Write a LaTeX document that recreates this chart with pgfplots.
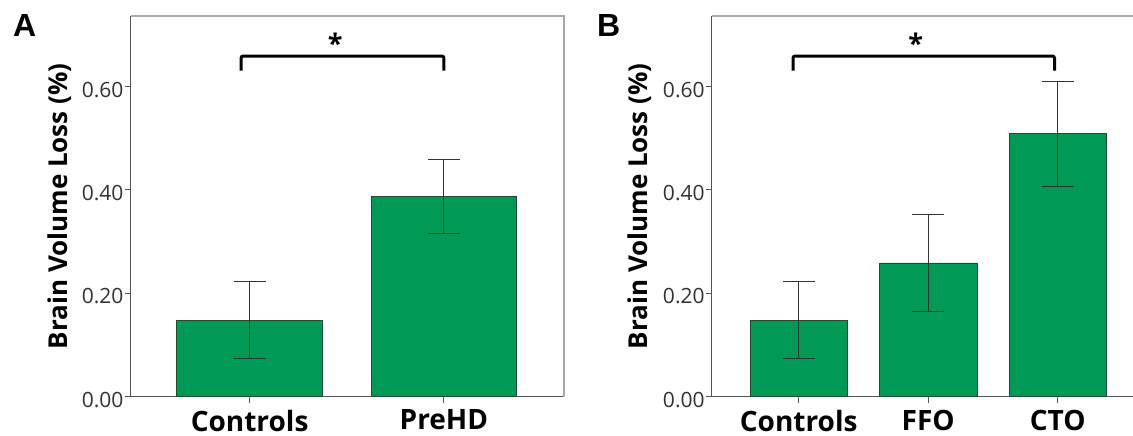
\documentclass[border=0pt]{standalone}
\usepackage{fontspec}
\setmainfont{Open Sans}
\newfontfamily\panelfont{Liberation Sans}
\usepackage{pgfplots}
\pgfplotsset{compat=1.18}
\definecolor{bargreen}{HTML}{009A56}
\definecolor{edgegreen}{HTML}{1E4D33}
\definecolor{errgray}{HTML}{333333}
\definecolor{spine}{HTML}{555555}
\definecolor{framegray}{HTML}{AAAAAA}

\pgfplotsset{
  brain/.style={
    scale only axis, height=380.9pt,
    ymin=0, ymax=0.737,
    axis x line*=bottom, axis y line*=left,
    axis line style={-, draw=spine, line width=1pt},
    tick align=outside, major tick length=6pt,
    every tick/.style={draw=spine, line width=1pt},
    ytick={0,0.2,0.4,0.6}, yticklabels={0.00,0.20,0.40,0.60},
    yticklabel style={font=\fontsize{21}{21}\selectfont, text=black!80, inner sep=1pt, yshift=-3pt},
    xtick={0,1,2},
    xticklabel style={font=\fontsize{28}{28}\selectfont\bfseries, inner sep=0pt, yshift=-7pt},
    ylabel={Brain Volume Loss (\%)},
    ylabel style={font=\fontsize{26}{26}\selectfont\bfseries, anchor=base, inner sep=0pt},
    ybar, bar width=0.75, bar shift=0pt,
    clip=false,
  },
  bars/.style={fill=bargreen, draw=edgegreen, line width=0.6pt,
    error bars/.cd, y dir=both, y explicit,
    error bar style={draw=errgray, line width=1pt},
    error mark options={rotate=90, draw=errgray, line width=1pt, mark size=16pt}},
}

\begin{document}
\begin{tikzpicture}
\path[use as bounding box] (0,0) rectangle (1133pt,436pt);

% panel A
\begin{axis}[brain, at={(130.7pt,39.3pt)}, anchor=south west,
  width=433.3pt, xmin=-0.612, xmax=1.618,
  xticklabels={Controls,PreHD},
  ylabel style={at={([xshift=-62.7pt]rel axis cs:0,0.5)}}]
\addplot[bars] coordinates {(0,0.148) += (0,0.074) -= (0,0.074)
  (1,0.387) += (0,0.071) -= (0,0.072)};
\draw[framegray, line width=2pt] (rel axis cs:0,1) -- (rel axis cs:1,1) -- (rel axis cs:1,0);
\draw[line width=3pt, rounded corners=2pt] (axis cs:-0.044,0.631) |- (axis cs:1,0.659) -- (axis cs:1,0.631);
\node[anchor=north, inner sep=0pt, font=\fontsize{27}{27}\selectfont\bfseries] at (axis cs:0.44,0.7045) {*};
\end{axis}

% panel B
\begin{axis}[brain, at={(711.8pt,39.3pt)}, anchor=south west,
  width=421.2pt, xmin=-0.671, xmax=2.581,
  xticklabels={Controls,FFO,CTO},
  ylabel style={at={([xshift=-64.6pt]rel axis cs:0,0.5)}}]
\addplot[bars] coordinates {(0,0.148) += (0,0.074) -= (0,0.074)
  (1,0.259) += (0,0.093) -= (0,0.095)
  (2,0.509) += (0,0.101) -= (0,0.102)};
\draw[framegray, line width=2pt] (rel axis cs:0,1) -- (rel axis cs:1,1);
\draw[line width=3pt, rounded corners=2pt] (axis cs:-0.044,0.631) |- (axis cs:1.975,0.659) -- (axis cs:1.975,0.631);
\node[anchor=north, inner sep=0pt, font=\fontsize{27}{27}\selectfont\bfseries] at (axis cs:0.904,0.7045) {*};
\end{axis}

\node[anchor=north west, inner sep=0pt, font=\panelfont\fontsize{32}{32}\selectfont\bfseries] at (13pt,422pt) {A};
\node[anchor=north west, inner sep=0pt, font=\panelfont\fontsize{32}{32}\selectfont\bfseries] at (597pt,422pt) {B};
\end{tikzpicture}
\end{document}
